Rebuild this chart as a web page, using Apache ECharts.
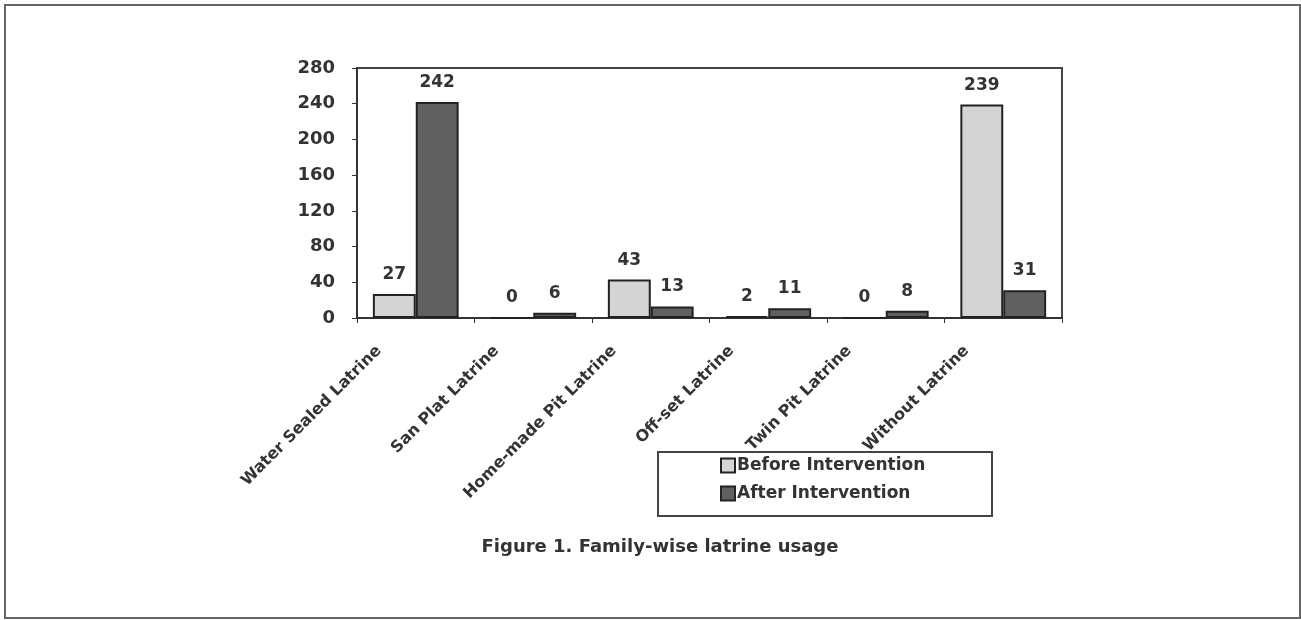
<!DOCTYPE html>
<html>
<head>
<meta charset="utf-8">
<script src="https://cdn.jsdelivr.net/npm/echarts@6/dist/echarts.min.js"></script>
<style>
  html, body { margin: 0; padding: 0; background: #fff; }
  #chart { width: 1301px; height: 620px; }
</style>
</head>
<body>
<div id="chart"></div>
<script>
var categories = ['Water Sealed Latrine', 'San Plat Latrine', 'Home-made Pit Latrine',
  'Off-set Latrine', 'Twin Pit Latrine', 'Without Latrine'];
var before = [27, 0, 43, 2, 0, 239];
var after = [242, 6, 13, 11, 8, 31];

var FONT = 'DejaVu Sans';
var chart = echarts.init(document.getElementById('chart'));

var labelStyle = {
  show: true,
  position: 'top',
  distance: 11,
  fontFamily: FONT,
  fontWeight: 'bold',
  fontSize: 17,
  color: '#333'
};

var option = {
  animation: false,
  graphic: [
    {
      type: 'rect',
      shape: { x: 5, y: 5, width: 1295, height: 613 },
      style: { fill: 'none', stroke: '#666', lineWidth: 2 }
    },
    {
      type: 'rect',
      shape: { x: 658, y: 452, width: 334, height: 64 },
      style: { fill: 'none', stroke: '#444', lineWidth: 2 }
    }
  ],
  title: {
    text: 'Figure 1. Family-wise latrine usage',
    left: 655,
    textAlign: 'center',
    top: 533,
    textStyle: { fontFamily: FONT, fontWeight: 'bold', fontSize: 18, color: '#333' }
  },
  legend: {
    orient: 'vertical',
    left: 714,
    top: 451,
    padding: [6, 6, 6, 6],
    itemGap: 11,
    itemWidth: 14,
    itemHeight: 14,
    icon: 'rect',
    textStyle: { fontFamily: FONT, fontWeight: 'bold', fontSize: 17, color: '#333', padding: [0, 0, 0, -3] },
    data: ['Before Intervention', 'After Intervention']
  },
  grid: {
    left: 357,
    top: 68,
    width: 705,
    height: 250,
    show: true,
    borderColor: '#444',
    borderWidth: 2,
    containLabel: false
  },
  xAxis: {
    type: 'category',
    data: categories,
    axisLine: { lineStyle: { color: '#333', width: 2 } },
    axisTick: { show: true, length: 5, lineStyle: { color: '#333' } },
    axisLabel: {
      rotate: 45,
      interval: 0,
      margin: 5,
      padding: [0, 44, 0, 0],
      verticalAlign: 'bottom',
      fontFamily: FONT,
      fontWeight: 'bold',
      fontSize: 16,
      color: '#333'
    }
  },
  yAxis: {
    type: 'value',
    min: 0,
    max: 280,
    interval: 40,
    axisLine: { show: true, lineStyle: { color: '#333', width: 2 } },
    axisTick: { show: true, length: 5, lineStyle: { color: '#333' } },
    splitLine: { show: false },
    axisLabel: {
      margin: 22,
      fontFamily: FONT,
      fontWeight: 'bold',
      fontSize: 18,
      color: '#333'
    }
  },
  series: [
    {
      name: 'Before Intervention',
      type: 'bar',
      data: before,
      barGap: '0%',
      barCategoryGap: '27%',
      itemStyle: { color: '#d4d4d4', borderColor: '#222', borderWidth: 2 },
      label: labelStyle
    },
    {
      name: 'After Intervention',
      type: 'bar',
      data: after,
      barGap: '0%',
      barCategoryGap: '27%',
      itemStyle: { color: '#606060', borderColor: '#222', borderWidth: 2 },
      label: labelStyle
    }
  ]
};

chart.setOption(option);
</script>
</body>
</html>
